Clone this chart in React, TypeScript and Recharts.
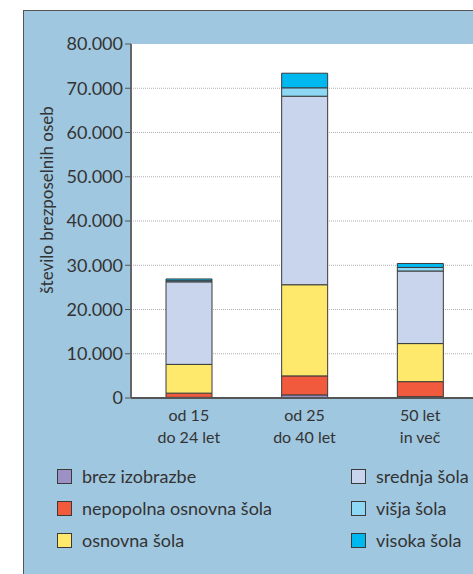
import {
  BarChart,
  Bar,
  XAxis,
  YAxis,
  CartesianGrid,
  Legend,
} from "recharts";

const categories = ["od 15\ndo 24 let", "od 25\ndo 40 let", "50 let\nin več"];

const brezIzobrazbe = [150, 700, 300];
const nepopolnaOsnovna = [950, 4300, 3400];
const osnovnaSola = [6500, 20600, 8600];
const srednjaSola = [18650, 42600, 16400];
const visjaSola = [250, 1900, 800];
const visokaSola = [400, 3300, 900];

const yTicks = [0, 10000, 20000, 30000, 40000, 50000, 60000, 70000, 80000];
const yMax = 80000;

const series = [
  { key: "brez", name: "brez izobrazbe", color: "#9c90c4", values: brezIzobrazbe },
  { key: "nepop", name: "nepopolna osnovna šola", color: "#f15a3d", values: nepopolnaOsnovna },
  { key: "osn", name: "osnovna šola", color: "#ffe96c", values: osnovnaSola },
  { key: "sred", name: "srednja šola", color: "#c8d5ed", values: srednjaSola },
  { key: "visja", name: "višja šola", color: "#8ed8f5", values: visjaSola },
  { key: "visoka", name: "visoka šola", color: "#00b8f0", values: visokaSola },
];

const data = categories.map((cat, i) => {
  const row: Record<string, string | number> = { cat };
  series.forEach((s) => {
    row[s.key] = s.values[i];
  });
  return row;
});

const FONT = "Lato, 'Noto Sans', sans-serif";
const TEXT = "#333333";

const fmt = (v: number) => String(v).replace(/\B(?=(\d{3})+(?!\d))/g, ".");

// inner gridlines only (no dotted line on the top edge of the plot)
const gridLines = (args: any) => {
  const inner = yTicks.filter((v) => v > 0 && v < yMax);
  const sc = args?.yAxis?.scale;
  if (typeof sc === "function") return inner.map((v) => sc(v));
  const o = args.offset;
  return inner.map((v) => o.top + o.height * (1 - v / yMax));
};

function CategoryTick(props: any) {
  const { x, y, payload } = props;
  const lines = String(payload.value).split("\n");
  return (
    <text x={x} y={y} textAnchor="middle" fill={TEXT} fontSize={16} fontFamily={FONT}>
      {lines.map((l, i) => (
        <tspan key={i} x={x} dy={i === 0 ? 15 : 22}>
          {l}
        </tspan>
      ))}
    </text>
  );
}

function LegendBox() {
  return (
    <div
      style={{
        display: "grid",
        gridTemplateColumns: "294px 140px",
        gridTemplateRows: "32px 32px 32px",
        gridAutoFlow: "column",
        fontFamily: FONT,
        fontSize: 18,
        color: TEXT,
      }}
    >
      {series.map((s) => (
        <div key={s.key} style={{ display: "flex", alignItems: "center", whiteSpace: "nowrap" }}>
          <span
            style={{
              width: 13,
              height: 13,
              background: s.color,
              border: "1.5px solid #3a3a3a",
              marginRight: 10,
              display: "inline-block",
            }}
          />
          {s.name}
        </div>
      ))}
    </div>
  );
}

export default function App() {
  return (
    <div
      style={{
        position: "absolute",
        left: 0,
        top: 0,
        width: 473,
        height: 574,
        overflow: "hidden",
        background: "#ffffff",
      }}
    >
      <div
        style={{
          position: "absolute",
          left: 23,
          top: 10,
          width: 470,
          height: 580,
          background: "#a0c7e0",
          borderLeft: "1.5px solid #555",
          borderTop: "1.5px solid #555",
        }}
      />
      <div style={{ position: "absolute", left: 0, top: 0 }}>
        <BarChart
          width={500}
          height={574}
          data={data}
          margin={{ top: 44, right: 22, left: 0, bottom: 146 }}
          barSize={46}
        >
          <CartesianGrid
            vertical={false}
            stroke="#b0b0b0"
            strokeDasharray="1 1"
            fill="#ffffff"
            fillOpacity={1}
            horizontalCoordinatesGenerator={gridLines}
          />
          <XAxis
            dataKey="cat"
            tick={<CategoryTick />}
            tickLine={false}
            axisLine={{ stroke: "#555", strokeWidth: 2 }}
            interval={0}
            height={30}
          />
          <YAxis
            width={131}
            domain={[0, yMax]}
            ticks={yTicks}
            tickFormatter={fmt}
            tick={{ fontSize: 18, fill: TEXT, fontFamily: FONT }}
            tickSize={6}
            tickLine={{ stroke: "#555" }}
            axisLine={{ stroke: "#666", strokeWidth: 2 }}
            label={{
              content: (p: any) => {
                const vb = p.viewBox || { x: 0 };
                const cx = vb.x + 46;
                const cy = 200;
                return (
                  <text
                    x={cx}
                    y={cy}
                    transform={`rotate(-90, ${cx}, ${cy})`}
                    textAnchor="middle"
                    dominantBaseline="central"
                    fill={TEXT}
                    fontSize={17}
                    fontFamily={FONT}
                  >
                    število brezposelnih oseb
                  </text>
                );
              },
            }}
          />
          <Legend
            layout="vertical"
            align="center"
            verticalAlign="middle"
            content={() => <LegendBox />}
            wrapperStyle={{ position: "absolute", left: 57, top: 460, width: 440 }}
          />
          {series.map((s) => (
            <Bar
              key={s.key}
              dataKey={s.key}
              name={s.name}
              stackId="a"
              fill={s.color}
              stroke="#3a3a3a"
              strokeWidth={1}
              isAnimationActive={false}
            />
          ))}
        </BarChart>
      </div>
    </div>
  );
}
